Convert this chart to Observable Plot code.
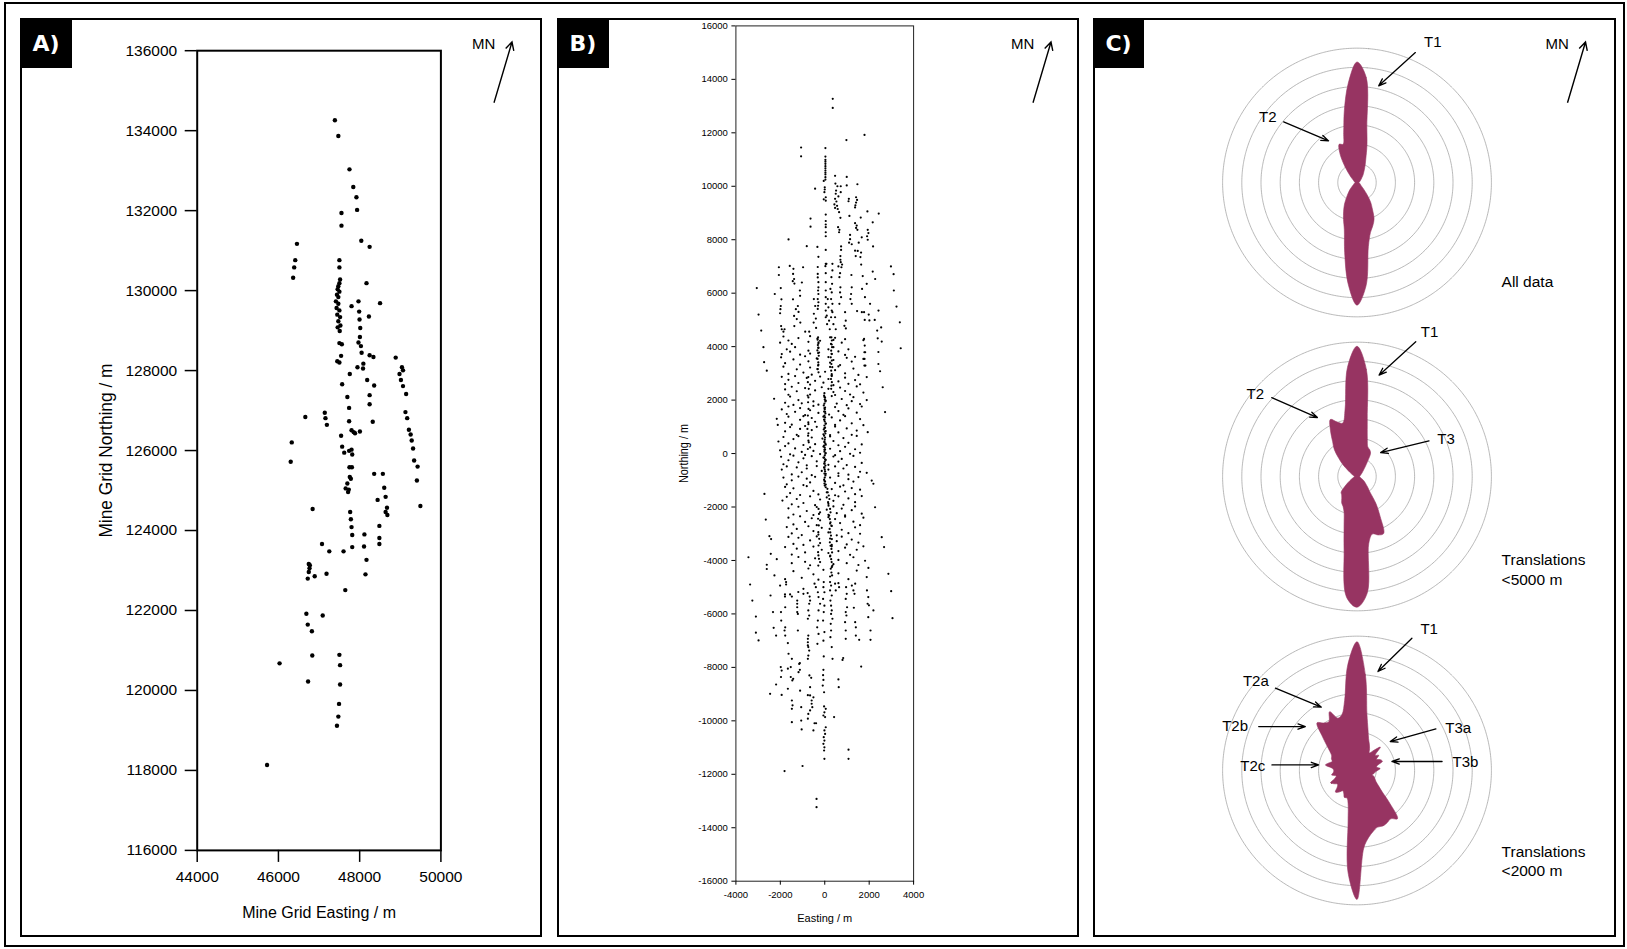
<!DOCTYPE html>
<html><head><meta charset="utf-8">
<script src="https://cdn.jsdelivr.net/npm/d3@7"></script>
<script src="https://cdn.jsdelivr.net/npm/@observablehq/plot@0.6"></script>
<style>
html,body{margin:0;padding:0;background:#fff;}
#fig{position:relative;width:1627px;height:949px;overflow:hidden;background:#fff;font-family:"Liberation Sans",Arial,sans-serif;}
.box{position:absolute;box-sizing:border-box;border:2.5px solid #000;}
.outer{position:absolute;box-sizing:border-box;border:2px solid #000;}
.tag{position:absolute;background:#000;color:#fff;font:bold 22px "DejaVu Sans",sans-serif;display:flex;align-items:center;justify-content:center;}
.plot{position:absolute;}
</style></head><body><div id="fig"></div>
<script>
// ---------------- Panel A data (Mine Grid Easting, Northing) ----------------
const aEastTicks = [44000, 46000, 48000, 50000];
const aNorthTicks = [116000,118000,120000,122000,124000,126000,128000,130000,132000,134000,136000];
const aPoints = [
[47390,134260],[47475,133865],[47749,133033],[47843,132593],[47920,132336],[47937,132018],[47552,131942],[47552,131625],[48040,131246],[48245,131095],[46456,131170],[46414,130762],[46388,130580],[46362,130322],[47501,130762],[47501,130580],[48168,130186],
[47518,130277],[47501,130186],[47475,130111],[47458,130035],[47501,129974],[47441,129899],[47475,129838],[47415,129732],[47475,129671],[47432,129565],[47501,129505],[47449,129399],[47518,129338],[47475,129232],[47526,129126],[47458,129081],[47509,128990],
[47800,129611],[47971,129732],[47988,129475],[47997,129278],[48014,129066],[48006,128839],[47971,128703],[48031,128612],[48048,128445],[47946,128082],[48091,128173],[48083,128051],[48228,129354],[48502,129687],[48245,128385],[48339,128339],
[47501,128687],[47561,128657],[47543,128369],[47501,128203],[47449,128233],
[48887,128324],[49041,128082],[49067,128006],[48981,127915],[49016,127764],[49067,127612],[49144,127416],[49127,126961],[49170,126810],[49212,126522],[49255,126401],[49281,126250],[49315,126053],[49341,125750],[49426,125599],[49409,125251],[49495,124615],
[47757,127915],[48185,127764],[48357,127628],[48245,127385],[48245,127158],[47697,127340],[47740,127067],[47569,127658],
[46662,126840],[47141,126946],[47158,126810],[47193,126643],
[47740,126734],[47800,126507],[47852,126462],[47886,126432],[48006,126477],[48322,126719],
[47543,126371],[47569,126098],[47620,125947],[47740,125992],[47800,126023],[47817,125902],
[46328,126204],[46302,125720],
[47749,125584],[47809,125584],[47757,125341],[47697,125175],[47783,125296],[47732,125023],[47655,125054],[47715,124963],
[48357,125417],[48571,125417],[48605,125069],[48639,124842],[48673,124569],[48639,124463],[48682,124388],[48442,124766],
[46842,124539],
[47766,124463],[47783,124282],[47800,124085],[47817,123888],[47817,123585],
[48117,123903],[48108,123600],[48168,123267],[48143,122904],
[48485,124115],[48485,123812],[48485,123661],
[47073,123661],[47252,123479],[47603,123479],
[46747,123161],[46773,123131],[46765,123055],[46747,122964],[46722,122798],[46893,122858],[47184,122919],
[47646,122510],
[46688,121920],[47090,121874],[46722,121647],[46824,121481],
[46833,120875],[47501,120890],[47518,120633],[46028,120678],
[47518,120148],[46730,120224],
[47492,119664],[47475,119346],[47441,119119],
[45720,118135]
];

// ---------------- Panel B data (Easting, Northing relative) ----------------
const bEastTicks = [-4000, -2000, 0, 2000, 4000];
const bNorthTicks = [-16000,-14000,-12000,-10000,-8000,-6000,-4000,-2000,0,2000,4000,6000,8000,10000,12000,14000,16000];
const bNorthPoints = [
[360,13270],[360,12930],[1790,11920],[975,11730],[-1065,11450],[-1065,11120],[30,11430],
[30,11110],[30,10990],[30,10920],[30,10840],[30,10750],[30,10670],[30,10590],[30,10510],[30,10440],[30,10340],[30,10250],[-45,10200],
[465,10390],[990,10350],[480,10100],[570,10000],[720,10000],[990,10030],[1470,10075],
[-435,9910],[0,9960],[0,9880],[-15,9780],[45,9590],[-45,9510],[45,9460],
[510,9840],[495,9720],[615,9620],[465,9530],[525,9430],[435,9320],[555,9270],[465,9190],[585,9150],[645,9030],
[720,9780],[1085,9530],[1070,9440],
[1410,9590],[1455,9490],[1410,9390],[1380,9290],[1365,9210],
[1920,9060],[2430,8980],[1110,8890],[1620,8830],[2160,8650],
[-640,8790],[-640,8490],
[45,8940],[45,8700],[45,8570],[45,8470],[45,8280],[45,8130],
[705,8820],[600,8470],[660,8370],[645,8280],
[1365,8620],[1440,8530],[1410,8440],[1470,8370],
[1935,8370],[1965,8250],[1905,8130],[1935,8000],
[1140,8180],[1140,8020],[1095,7890],[1215,7830],
[1665,8090],[1530,7890],[-1630,8010],
[-810,7760],[-330,7730],[45,7620],[735,7750],[735,7620],
[1485,7580],[1365,7590],[1635,7520],[2175,7750],[1395,7390],[1605,7350],[-285,7360],
[705,7390],[705,7250],[720,7160],[780,7070],[750,6970],[45,7100],
[-2065,6970],[-2065,6680],[-1575,7020],
[-1410,6910],[-1425,6720],[-1380,6530],[-1440,6450],[-1365,6360],[-975,6970],
[-315,6980],[-315,6720],[-315,6590],[-285,6410],[-285,6220],[-300,6100],[-285,5970],[-315,5780],[-285,5660],[-300,5530],[-315,5410],
[75,7100],[30,7010],[45,6750],[45,6410],[45,6100],[45,5850],[45,5600],[45,5350],[45,5100],
[345,7100],[345,6850],[300,6600],[330,6350],[255,6160],[315,6030],[285,5780],[345,5600],[315,5350],[285,5100],
[615,7000],[690,6750],[660,6600],[705,6220],[690,6030],[735,5850],[660,5600],
[1200,6680],[1215,6220],[1185,5970],[1155,5780],[1215,5600],
[1640,7070],[1710,6640],[1890,6350],[1680,6160],[1810,5850],[2040,5600],[1670,5290],[2010,4980],
[2160,6810],[2270,6530],
[2980,7000],[3100,6710],[3110,6100],[3230,5500],[3380,4910],
[-3060,6190],[-2980,5200],[-2860,4600],[-2250,5970],
[-1980,6190],[-1950,5770],[-1980,5520],[-1995,5400],[-2010,5250],[-1965,4770],[-1935,4650],
[-1430,5770],[-1210,5520],[-1300,5400],[-1180,5300],[-1380,5150],[-1260,5030],[-1100,4900],[-1370,4770],
[-1110,5900],[-1120,6100],[-1030,6400],
[-490,5780],[-430,5520],[-490,5230],[-400,5050],[-500,4900],[-390,4700],
[135,5780],[165,5470],[90,5160],[195,4970],[105,4840],[225,4650],
[345,5290],[465,5100],[390,4840],[495,4650],
[915,5290],[945,4970],[885,4780],
[1455,5330],[1770,5290],[1980,5200],[1800,5000],
[2360,4600],[2540,4720],[2250,5000],[2420,5350],
[-1810,4650],[-1860,4560],[-880,4560],[-700,4560],[950,4680]
];
const bMidPoints = [
[-2010,4150],[-1860,4380],[-1635,4230],[-1485,4100],[-1185,4320],[-735,4180],[-660,4390],[-330,4300],[-285,4120],[-210,4220],[240,4350],[315,4080],[390,4250],[465,4330],[765,4150],[915,4280],[1740,4240],[2385,4310],[2565,4190],
[-2760,3980],[-1935,3720],[-1710,3900],[-1560,3810],[-1335,3980],[-1110,3700],[-735,3850],[-660,3740],[-285,3950],[-255,3780],[165,3900],[315,3720],[390,3980],[615,3820],[915,3690],[1065,3900],[1785,3790],[2415,3800],[3420,3940],
[-2730,3420],[-1965,3600],[-1785,3380],[-1410,3520],[-1110,3330],[-885,3640],[-735,3450],[-360,3560],[-285,3320],[165,3610],[240,3400],[390,3500],[690,3310],[990,3580],[1215,3440],[1365,3620],[1740,3540],[2415,3350],
[-2610,3100],[-1860,3250],[-1635,2980],[-1260,3150],[-960,3030],[-660,3220],[-585,2950],[-315,3160],[15,3060],[240,3240],[315,2970],[465,3120],[615,3260],[915,3000],[1290,3180],[1515,2940],[1785,3290],[2490,3080],
[-1935,2870],[-1785,2600],[-1635,2760],[-1335,2900],[-1185,2640],[-810,2830],[-660,2580],[-435,2720],[-210,2880],[-60,2650],[165,2790],[315,2900],[390,2560],[615,2700],[915,2840],[1065,2610],[1365,2750],[1590,2590],[1890,2860],
[-1785,2400],[-1635,2200],[-1485,2500],[-1260,2330],[-885,2450],[-660,2210],[-435,2360],[-135,2480],[-15,2260],[165,2420],[390,2300],[465,2190],[690,2470],[915,2340],[1140,2210],[1440,2510],[1740,2280],[2610,2480],
[-2280,2050],[-1785,1900],[-1560,2130],[-1410,1820],[-1185,2000],[-1035,1880],[-735,2100],[-510,1950],[-285,1830],[-15,2120],[45,1980],[315,2150],[540,1870],[765,2040],[990,1810],[1215,1960],[1290,2110],[1590,1850],[1890,2000],
[-1935,1650],[-1710,1480],[-1635,1760],[-1335,1560],[-1110,1700],[-885,1440],[-660,1620],[-510,1780],[-285,1520],[-15,1700],[15,1560],[195,1460],[465,1740],[615,1590],[840,1450],[1065,1690],[1440,1530],[1665,1760],[2715,1550],
[-2160,1300],[-1785,1150],[-1635,1380],[-1485,1080],[-1110,1260],[-960,1400],[-735,1100],[-585,1330],[-435,1190],[-60,1380],[-15,1260],[45,1120],[315,1350],[465,1070],[690,1240],[915,1400],[1215,1130],[1590,1290],[1740,1060],
[-2115,1070],[-1785,830],[-1560,990],[-1260,700],[-1110,920],[-885,1030],[-735,760],[-585,880],[-360,1000],[-60,720],[-15,950],[45,840],[240,690],[465,1010],[615,790],[990,940],[1215,700],[1440,860],[1935,800],
[-2085,450],[-1860,620],[-1635,380],[-1410,540],[-1185,650],[-960,320],[-735,480],[-585,600],[-435,350],[-105,560],[-15,420],[45,330],[240,640],[390,470],[615,310],[840,580],[1065,400],[1440,660],[1665,340],
[-2010,120],[-1785,280],[-1560,-30],[-1335,190],[-1035,60],[-885,-50],[-660,230],[-510,100],[-210,-20],[-60,260],[-15,140],[45,20],[240,180],[465,-60],[690,90],[915,250],[1140,-10],[1365,160],[1590,30],
[-1965,-120],[-1860,-400],[-1635,-250],[-1410,-80],[-1185,-330],[-960,-180],[-810,-440],[-585,-100],[-360,-290],[-60,-150],[-15,-380],[45,-240],[165,-420],[390,-110],[615,-300],[765,-200],[990,-430],[1290,-90],[1665,-350],[1890,-720],
[-1935,-600],[-1710,-480],[-1485,-780],[-1260,-520],[-1035,-700],[-810,-560],[-585,-810],[-360,-470],[-135,-650],[-15,-530],[45,-760],[165,-600],[465,-480],[615,-740],[840,-560],[1065,-790],[1365,-500],[1590,-680],[2115,-1010],
[-1860,-900],[-1710,-1150],[-1485,-1000],[-1185,-860],[-960,-1180],[-810,-940],[-660,-1080],[-435,-870],[-15,-1020],[45,-1160],[240,-900],[465,-1100],[615,-840],[840,-1190],[1065,-960],[1290,-1050],[1515,-880],[2190,-1130],
[-2715,-1510],[-1785,-1250],[-1560,-1480],[-1410,-1300],[-1110,-1550],[-810,-1220],[-510,-1400],[-285,-1530],[45,-1260],[135,-1450],[315,-1330],[465,-1560],[690,-1240],[915,-1420],[1215,-1290],[1365,-1520],[1590,-1350],
[-1905,-1760],[-1710,-1620],[-1485,-1900],[-1260,-1700],[-960,-1850],[-660,-1600],[-435,-1930],[-210,-1720],[90,-1640],[165,-1880],[390,-1770],[615,-1600],[840,-1920],[1065,-1680],[1365,-1820],[1665,-1590],[2265,-2010],
[-1635,-2050],[-1410,-2280],[-1185,-1990],[-810,-2150],[-510,-2300],[-360,-2000],[-210,-2200],[90,-2100],[165,-2290],[390,-1980],[540,-2230],[765,-2060],[915,-2310],[1215,-2120],[1365,-1980],[1665,-2250],
[-2655,-2470],[-1635,-2400],[-1410,-2650],[-1110,-2350],[-885,-2560],[-585,-2420],[-360,-2680],[-210,-2500],[165,-2380],[240,-2620],[465,-2450],[690,-2600],[915,-2360],[1290,-2550],[1590,-2680],[1740,-2400],
[-2490,-3090],[-1710,-2750],[-1485,-2990],[-1260,-2820],[-1035,-3050],[-735,-2720],[-510,-2900],[-285,-3030],[-135,-2780],[165,-2950],[315,-2710],[540,-3060],[765,-2850],[1065,-2980],[1365,-2760],[1590,-3000],
[-2415,-3200],[-1635,-3120],[-1410,-3380],[-1185,-3150],[-960,-3420],[-660,-3250],[-360,-3100],[-210,-3350],[240,-3180],[315,-3420],[540,-3280],[765,-3110],[990,-3400],[1215,-3220],[1515,-3330],[2565,-3130],
[-2430,-3750],[-1785,-3500],[-1485,-3780],[-1260,-3560],[-885,-3700],[-510,-3480],[-285,-3810],[-135,-3600],[165,-3720],[315,-3470],[615,-3650],[915,-3520],[1140,-3790],[1440,-3600],[1740,-3470],[2670,-3500],
[-3435,-3880],[-2610,-4160],[-2160,-3950],[-1485,-4100],[-1185,-3870],[-885,-4050],[-660,-4180],[-435,-3920],[-210,-4060],[240,-3850],[390,-4140],[615,-3980],[990,-4100],[1290,-3880],[1515,-4170],[1815,-4010],
[-2610,-4320],[-2265,-4560],[-1785,-4700],[-1410,-4400],[-1035,-4650],[-735,-4300],[-510,-4520],[-285,-4720],[-60,-4350],[240,-4600],[315,-4250],[615,-4480],[1065,-4700],[1440,-4380],[1890,-4620],[1965,-4280],[2865,-4500]
];
const bStrandPoints = [
[-30,2170],[15,2090],[0,2020],[30,1950],[-15,1870],[-45,1800],[15,1720],[0,1650],[-30,1570],[30,1500],[-15,1420],[15,1350],[-30,1270],[0,1200],[45,1120],[-15,1050],[15,970],[-45,900],[0,820],[30,750],[-30,670],[15,600],[0,520],[-15,450],[30,370],[-30,300],[0,220],[15,150],[-15,70],[30,0],[0,-70],[-30,-150],[15,-220],[0,-300],[-15,-370],[30,-450],[-30,-520],[0,-600],[15,-670],[-15,-750],[30,-820],[0,-900],[-30,-970],[15,-1050],[-15,-1120],[0,-1200],
[120,-1320],[180,-1570],[150,-1820],[240,-2070],[200,-2320],[260,-2570],[220,-2820],[280,-3070],[230,-3320],[300,-3570],[250,-3820],[310,-4060],[270,-4310],[330,-4560],
[90,-1450],[210,-1700],[170,-1950],[260,-2200],[230,-2450],[300,-2700],[250,-2950],[320,-3200],[260,-3450],[330,-3700],[290,-3950],[340,-4200],[300,-4450],
[-300,4350],[-320,4260],[-280,4160],[-310,4060],[-290,3960],[-330,3860],[-300,3760],[-270,3660],[-320,3540],[-290,3410],[-300,3290],[-330,3160],[-280,3040],
[300,4350],[320,4230],[280,4100],[330,3980],[290,3850],[310,3730],[270,3600],[320,3480],[300,3350],[340,3230],[290,3100],[310,2920],[280,2790],[320,2670],[300,2540],[290,2420],
[-280,-2070],[-260,-2260],[-300,-2440],[-270,-2690],[-290,-2940],[-250,-3190],[-280,-3440],[-300,-3690],[-260,-3940],[-290,-4190],
[-740,2860],[-760,2670],[-720,2420],[-770,2170],[-750,1920],[-730,1670],[-760,1420],[-740,1170],[-780,920],[-750,670],[-720,420],[-760,170],
[1770,4290],[1800,4040],[1820,3790],[1790,3540],[1830,3290]
];
const bSouthPoints = [
[-3360,-4900],[-3260,-5500],[-3100,-6100],[-3100,-6700],[-2980,-6990],
[-2440,-5310],[-2010,-4940],[-1740,-4900],[-1740,-4810],
[-2330,-5930],[-1970,-5930],[-2300,-6520],[-2190,-6810],
[-1790,-5270],[-1790,-5350],[-1560,-5270],[-1480,-5350],
[-1780,-5750],[-1960,-6250],[-1780,-6500],[-1810,-6620],[-1780,-6810],
[-1240,-5500],[-1240,-5620],[-1240,-5750],[-1240,-5930],[-1210,-6000],
[-1190,-5180],[-960,-5060],[-960,-5250],[-770,-5220],[-680,-5350],
[-1210,-6620],[-1660,-7090],[-1480,-7680],[-1630,-7490],
[-740,-5870],[-700,-6060],[-760,-6180],[-660,-5500],[-700,-5620],
[-740,-6810],[-760,-6930],[-760,-7060],[-760,-7180],[-740,-7240],[-700,-7370],[-760,-7680],[-740,-7560],
[-460,-4870],[-400,-5000],[-310,-5190],[-280,-5370],[-210,-5620],[-280,-5870],[-310,-6250],[-340,-6500],[-280,-6750],[-330,-7120],
[-45,-4810],[-60,-5000],[-15,-5190],[-75,-5440],[-15,-5690],[-45,-5930],[-75,-6250],[-15,-6680],[-60,-7000],[-45,-7590],
[240,-4810],[285,-4940],[240,-5120],[315,-5310],[255,-5500],[285,-5690],[315,-5870],[285,-6000],[345,-6180],[270,-6370],[285,-6620],[255,-6870],[315,-7240],
[465,-4870],[495,-5120],[615,-4850],[645,-5000],
[960,-5000],[990,-5250],[945,-5440],[1005,-5750],[945,-5930],[975,-6060],[915,-6310],[945,-6620],[945,-6930],
[1220,-4940],[1290,-5120],[1370,-4870],[1340,-5250],
[1370,-6310],[1400,-6500],[1400,-6810],[1550,-6970],
[1900,-5120],[1960,-5370],[1930,-5620],[1990,-5680],[2190,-5870],[1960,-6120],[2060,-6620],[2060,-6970],
[2990,-5150],[3050,-6160],[1310,-5770],
[1640,-7970],[800,-7720],[830,-7650],[615,-8450],[630,-8740],
[350,-7680],[-60,-8090],[-75,-8290],[-60,-8470],[-90,-8680],[-30,-8930],
[-1120,-7840],[-1120,-8090],[-1150,-7870],[-1180,-8180],
[-1980,-7990],[-1940,-8120],[-1970,-8360],[-1660,-8050],[-1530,-7990],[-1530,-8360],[-1460,-8490],[-1420,-8430],
[-2190,-8640],[-2460,-8990],[-1940,-9030],[-1660,-8800],[-1110,-8870],
[-690,-8300],[-610,-8390],[-660,-8740],
[-760,-9040],[-660,-9050],[-510,-9120],[-590,-9240],[-590,-9360],[-560,-9490],[-660,-9610],
[-1480,-9240],[-1450,-9420],[-1480,-9550],[-1060,-9490],
[-740,-9740],[-760,-9920],[-460,-10090],[-390,-10090],[-1060,-9990],[-1040,-10320],[-1480,-10050],[-510,-10360],
[-30,-9460],[45,-9550],[-15,-9680],[15,-9860],[-60,-9800],[420,-9860],
[45,-10240],[-15,-10360],[15,-10490],[-45,-10610],[-15,-10740],[-60,-10860],[-15,-10990],[-30,-11110],[-15,-11420],
[1070,-11080],[1070,-11420],
[-1810,-11880],[-1000,-11690],
[-370,-12920],[-370,-13230]
];

// ---------------- Panel C data (rose diagrams, radius in ring units per azimuth) ----------------
const roseAngles = [0,5,10,15,20,25,30,35,40,45,50,55,60,65,70,75,80,85,90,95,100,105,110,115,120,125,130,135,140,145,150,155,160,165,170,175,180,185,190,195,200,205,210,215,220,225,230,235,240,245,250,255,260,265,270,275,280,285,290,295,300,305,310,315,320,325,330,335,340,345,350,355];
const roseAllData = [6.28,5.5,2.95,2.0,1.35,1.0,0.76,0.59,0.47,0.36,0.3,0.24,0.21,0.17,0.16,0.14,0.12,0.1,0.1,0.1,0.12,0.14,0.16,0.17,0.21,0.24,0.32,0.49,0.78,1.22,1.6,2.1,2.4,2.7,3.4,5.4,6.39,5.3,3.7,2.55,2.05,1.65,1.3,0.95,0.7,0.52,0.36,0.26,0.21,0.17,0.16,0.14,0.12,0.1,0.1,0.1,0.12,0.14,0.16,0.17,0.21,0.26,0.36,0.52,0.8,1.25,1.8,2.2,2.12,2.68,3.8,5.2];
const roseLt5000 = [6.79,5.6,3.07,2.07,1.64,1.55,1.41,0.95,0.66,0.48,0.38,0.31,0.26,0.22,0.19,0.17,0.16,0.14,0.14,0.14,0.16,0.17,0.21,0.26,0.38,0.48,0.6,0.78,1.03,1.72,2.41,3.28,3.24,3.1,3.53,6.1,6.81,6.3,3.88,2.6,1.97,1.72,1.59,1.38,1.24,1.17,0.86,0.6,0.43,0.31,0.24,0.19,0.16,0.14,0.14,0.14,0.16,0.19,0.24,0.31,0.43,0.6,0.95,1.34,1.84,2.21,2.76,3.28,3.02,2.88,3.57,5.7];
const roseLt2000 = [6.71,5.0,2.98,2.21,1.76,1.52,1.31,1.12,1.38,1.72,1.24,1.38,1.17,1.34,1.41,1.14,1.03,1.21,1.07,0.95,0.9,0.83,0.95,1.03,1.14,1.35,1.69,2.41,3.28,3.07,3.14,3.19,3.14,3.28,3.53,4.05,6.72,5.34,2.67,1.79,1.52,1.55,1.38,1.29,1.47,1.59,1.34,1.24,1.38,1.52,1.24,1.12,1.34,1.24,1.21,1.29,1.67,1.52,1.38,1.47,1.52,1.72,2.07,2.59,3.24,3.02,2.93,3.38,2.9,3.02,3.71,5.52];
const ringRadii = [1, 2, 3, 4, 5, 6, 7];
const roseCaptions = ["All data", "Translations\n<5000 m", "Translations\n<2000 m"];

// annotations (rose index, label, label position, arrow from -> to), in ring units
const annoRose  = [0, 0, 1, 1, 1, 2, 2, 2, 2, 2, 2];
const annoText  = ["T1","T2","T1","T2","T3","T1","T2a","T2b","T2c","T3a","T3b"];
const annoTextX = [3.95,-4.65,3.78,-5.3,4.64,3.76,-5.27,-6.35,-5.43,5.27,5.65];
const annoTextY = [7.32,3.38,7.54,4.29,1.97,7.37,4.67,2.29,0.24,2.23,0.45];
const annoX1 = [3.04,-3.82,3.06,-4.44,3.75,2.86,-4.25,-5.12,-4.43,4.11,4.43];
const annoY1 = [6.77,3.16,7.02,4.11,1.86,6.89,4.29,2.29,0.29,2.17,0.47];
const annoX2 = [1.13,-1.48,1.15,-2.06,1.23,1.09,-1.86,-2.69,-2.0,1.73,1.82];
const annoY2 = [5.04,2.17,5.28,3.07,1.25,5.16,3.3,2.29,0.29,1.51,0.47];

// ---------------- Layout ----------------
const fig = document.getElementById("fig");
function div(cls, css, html) { const d = document.createElement("div"); d.className = cls; Object.assign(d.style, css); if (html) d.innerHTML = html; fig.appendChild(d); return d; }
div("outer", {left: "4px", top: "2px", width: "1621px", height: "945px"});
div("box", {left: "20px", top: "18px", width: "522px", height: "919px"});
div("box", {left: "557px", top: "18px", width: "522px", height: "919px"});
div("box", {left: "1093px", top: "18px", width: "523px", height: "919px"});

function place(svg, left, top) { svg.classList.add("plot"); svg.style.left = left + "px"; svg.style.top = top + "px"; svg.style.overflow = "visible"; svg.style.background = "transparent"; fig.appendChild(svg); return svg; }
function styleLabel(svg, which, len, size) {
  const g = svg.querySelector(`g[aria-label="${which}-axis label"]`);
  if (!g) return;
  g.querySelectorAll("text").forEach(t => {
    if (size) t.setAttribute("font-size", size);
    if (len) { t.setAttribute("textLength", len); t.setAttribute("lengthAdjust", "spacingAndGlyphs"); }
  });
}
const toPt = p => ({e: p[0], n: p[1]});

// Panel A
const svgA = Plot.plot({
  width: 500, height: 905,
  marginLeft: 166.7, marginRight: 89.6, marginTop: 25.2, marginBottom: 80.1,
  style: {fontFamily: "Liberation Sans, Arial, sans-serif", color: "#000"},
  x: {domain: [44000, 50000]},
  y: {domain: [116000, 136000]},
  marks: [
    Plot.frame({stroke: "#000", strokeWidth: 2}),
    Plot.axisX({ticks: aEastTicks, tickFormat: d => String(d), tickSize: 12, tickPadding: 9, strokeWidth: 1.5, fontSize: 15.5,
      label: "Mine Grid Easting / m", labelAnchor: "center", labelArrow: "none", labelOffset: 67.6}),
    Plot.axisY({ticks: aNorthTicks, tickFormat: d => String(d), tickSize: 12, tickPadding: 8, strokeWidth: 1.5, fontSize: 15.5,
      label: "Mine Grid Northing / m", labelAnchor: "center", labelArrow: "none", labelOffset: 99}),
    Plot.dot(aPoints.map(toPt), {x: "e", y: "n", r: 2.2, fill: "#000", stroke: "none"})
  ]
});
styleLabel(svgA, "y", 174, 19);
styleLabel(svgA, "x", null, 16);
place(svgA, 30, 25);

// Panel B
const bAll = [...bNorthPoints, ...bMidPoints, ...bStrandPoints, ...bSouthPoints].map(toPt);
const svgB = Plot.plot({
  width: 515, height: 925,
  marginLeft: 175.4, marginRight: 161.9, marginTop: 20.4, marginBottom: 49.3,
  style: {fontFamily: "Liberation Sans, Arial, sans-serif", color: "#000"},
  x: {domain: [-4000, 4000]},
  y: {domain: [-16000, 16000]},
  marks: [
    Plot.frame({stroke: "#222", strokeWidth: 1}),
    Plot.axisX({ticks: bEastTicks, tickFormat: d => String(d), tickSize: 4, tickPadding: 6, fontSize: 9.5,
      label: "Easting / m", labelAnchor: "center", labelArrow: "none", labelOffset: 40.3}),
    Plot.axisY({ticks: bNorthTicks, tickFormat: d => String(d), tickSize: 4, tickPadding: 4, fontSize: 9.5,
      label: "Northing / m", labelAnchor: "center", labelArrow: "none", labelOffset: 57.5}),
    Plot.dot(bAll, {x: "e", y: "n", r: 1.1, fill: "#000", stroke: "none"})
  ]
});
styleLabel(svgB, "y", 59, 13);
styleLabel(svgB, "x", null, 11);
place(svgB, 560, 5);

// Panel C
const rad = Math.PI / 180;
const roseSets = [roseAllData, roseLt5000, roseLt2000];
const roseRows = roseSets.flatMap((radii, k) => roseAngles.map((a, i) => ({rose: k, x: radii[i] * Math.sin(a * rad), y: radii[i] * Math.cos(a * rad)})));
const ringRows = [0, 1, 2].flatMap(k => ringRadii.flatMap(r => roseAngles.map(a => ({rose: k, ring: r, x: r * Math.sin(a * rad), y: r * Math.cos(a * rad)}))));
const annoRows = annoRose.map((k, i) => ({rose: k, text: annoText[i], tx: annoTextX[i], ty: annoTextY[i], x1: annoX1[i], y1: annoY1[i], x2: annoX2[i], y2: annoY2[i]}));
const captionRows = roseCaptions.map((t, k) => ({rose: k, text: t}));
const roseFill = "#973462";
const svgC = Plot.plot({
  width: 516, height: 913,
  marginLeft: 0, marginRight: 0, marginTop: 14.5, marginBottom: 15.6,
  style: {fontFamily: "Liberation Sans, Arial, sans-serif", color: "#000"},
  x: {domain: [-13.568, 13.307], axis: null},
  y: {domain: [-7.66, 7.66], axis: null},
  fy: {domain: [0, 1, 2], axis: null, padding: 0},
  marks: [
    Plot.line(ringRows, {x: "x", y: "y", z: "ring", fy: "rose", stroke: "#9a9a9a", strokeWidth: 0.7, strokeDasharray: "2.5,0.8", curve: "catmull-rom-closed"}),
    Plot.line(roseRows, {x: "x", y: "y", fy: "rose", fill: roseFill, stroke: roseFill, strokeWidth: 0.6, curve: "catmull-rom-closed"}),
    Plot.arrow(annoRows, {x1: "x1", y1: "y1", x2: "x2", y2: "y2", fy: "rose", stroke: "#000", strokeWidth: 1.3, headLength: 9, headAngle: 40}),
    Plot.text(annoRows, {x: "tx", y: "ty", fy: "rose", text: "text", fontSize: 15, fill: "#000"}),
    Plot.text(captionRows, {x: 7.53, y: d => d.rose === 0 ? -5.12 : (d.rose === 1 ? -4.82 : -4.67), fy: "rose", text: "text", textAnchor: "start", lineAnchor: "middle", lineHeight: 1.27, fontSize: 15.5, fill: "#000"})
  ]
});
place(svgC, 1096, 20);

// panel tags
div("tag", {left: "20px", top: "18px", width: "52px", height: "50px"}, "A)");
div("tag", {left: "557px", top: "18px", width: "52px", height: "50px"}, "B)");
div("tag", {left: "1093px", top: "18px", width: "51px", height: "50px"}, "C)");

// MN north arrows (decorative)
const mnLeft = [472, 1011, 1545.5];
const ns = "http://www.w3.org/2000/svg";
const over = document.createElementNS(ns, "svg");
over.setAttribute("width", 1627); over.setAttribute("height", 949);
Object.assign(over.style, {position: "absolute", left: "0px", top: "0px", pointerEvents: "none"});
mnLeft.forEach(m => {
  const t = document.createElementNS(ns, "text");
  t.setAttribute("x", m); t.setAttribute("y", 48.5); t.setAttribute("font-size", 15); t.setAttribute("font-family", "Liberation Sans, Arial, sans-serif");
  t.textContent = "MN"; over.appendChild(t);
  const x0 = m + 22, y0 = 102.7, x1 = m + 40, y1 = 42;
  const ang = Math.atan2(y1 - y0, x1 - x0);
  const h = 9, spread = 28 * rad;
  const d = `M${x0},${y0}L${x1},${y1}M${x1 - h * Math.cos(ang - spread)},${y1 - h * Math.sin(ang - spread)}L${x1},${y1}L${x1 - h * Math.cos(ang + spread)},${y1 - h * Math.sin(ang + spread)}`;
  const p = document.createElementNS(ns, "path");
  p.setAttribute("d", d); p.setAttribute("stroke", "#000"); p.setAttribute("stroke-width", 1.4); p.setAttribute("fill", "none");
  over.appendChild(p);
});
fig.appendChild(over);
</script></body></html>
